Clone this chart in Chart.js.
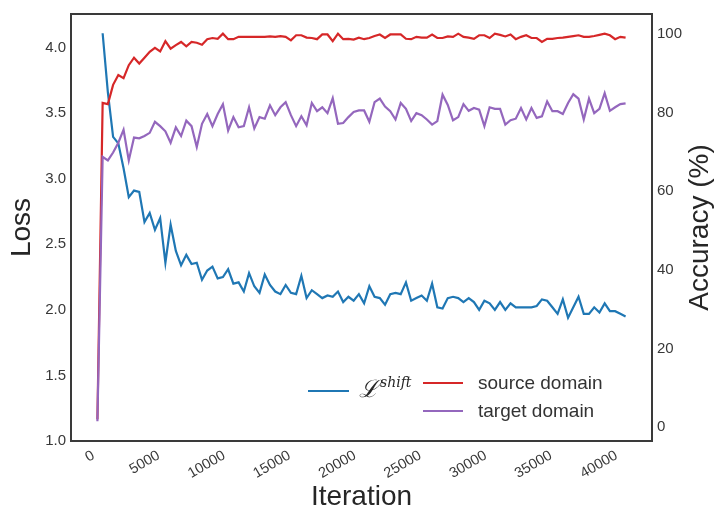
<!DOCTYPE html>
<html><head><meta charset="utf-8">
<script src="https://cdn.jsdelivr.net/npm/chart.js@4.4.0/dist/chart.umd.min.js"></script>
<style>html,body{margin:0;padding:0;background:#fff;}</style>
</head><body>
<canvas id="c" width="714" height="512"></canvas>
<script>
const iterations = [0,400,800,1200,1600,2000,2400,2800,3200,3600,4000,4400,4800,5200,5600,6000,6400,6800,7200,7600,
8000,8400,8800,9200,9600,10000,10400,10800,11200,11600,12000,12400,12800,13200,13600,14000,14400,14800,15200,15600,
16000,16400,16800,17200,17600,18000,18400,18800,19200,19600,20000,20400,20800,21200,21600,22000,22400,22800,23200,23600,
24000,24400,24800,25200,25600,26000,26400,26800,27200,27600,28000,28400,28800,29200,29600,30000,30400,30800,31200,31600,
32000,32400,32800,33200,33600,34000,34400,34800,35200,35600,36000,36400,36800,37200,37600,38000,38400,38800,39200,39600,
40000,40400];
const lossShift = [null,4.11,3.66,3.32,3.27,3.08,2.86,2.91,2.90,2.67,2.74,2.61,2.70,2.36,2.65,2.45,2.34,2.42,2.35,2.36,
2.23,2.30,2.33,2.24,2.25,2.31,2.20,2.21,2.14,2.28,2.18,2.13,2.27,2.19,2.14,2.12,2.19,2.13,2.12,2.26,
2.09,2.15,2.12,2.09,2.11,2.10,2.14,2.06,2.10,2.07,2.12,2.05,2.18,2.10,2.09,2.04,2.12,2.13,2.12,2.21,
2.07,2.09,2.11,2.07,2.20,2.02,2.01,2.09,2.10,2.09,2.06,2.09,2.06,2.00,2.07,2.05,2.00,2.06,2.00,2.05,
2.02,2.02,2.02,2.02,2.03,2.08,2.07,2.02,1.97,2.08,1.94,2.02,2.10,1.97,1.97,2.02,1.98,2.05,1.99,1.99,
1.97,1.95];
const sourceAcc = [2,82.4,82.1,87.0,89.5,88.7,92.0,93.9,92.4,93.9,95.4,96.4,95.5,98.1,96.2,97.1,97.9,96.8,97.9,97.7,
97.2,98.6,98.9,98.7,100.0,98.6,98.6,99.2,99.2,99.2,99.2,99.2,99.2,99.3,
99.2,99.4,99.2,98.3,99.6,99.6,99.0,98.9,98.6,99.8,99.8,98.1,100,98.6,98.7,98.5,99.0,98.6,98.9,99.4,
99.8,98.9,99.8,99.8,99.8,98.7,98.6,99.2,99.0,99.0,99.8,98.9,98.9,99.3,
99.2,100,99.2,99.0,98.7,99.6,99.6,98.9,100,99.7,99.3,99.8,98.6,99.2,99.6,98.9,98.9,97.9,98.7,98.7,
98.9,99.0,99.2,99.4,99.6,99.2,99.2,99.4,99.7,100,99.6,98.6,99.2,99.0];
const targetAcc = [1.5,68.7,67.8,69.8,72.3,75.6,67.8,73.6,73.4,74.0,74.8,77.6,76.5,75.2,72.3,76.2,74.0,77.9,76.5,71.2,
77.1,79.6,76.5,79.6,82.1,75.4,78.8,76.2,76.5,81.3,75.9,78.8,78.4,81.8,
79.3,81.3,82.6,79.3,76.5,79.0,76.7,82.4,80.3,81.3,79.8,83.6,77.1,77.3,78.8,80.1,80.5,80.5,77.6,82.6,
83.5,81.5,80.3,78.2,82.4,80.9,77.8,79.8,79.3,78.2,76.9,77.8,84.5,81.9,
78.0,78.8,82.1,80.4,81.1,80.7,76.5,81.3,80.9,80.9,76.9,78.0,78.4,81.1,78.2,81.1,78.6,79.0,82.8,80.3,
80.3,79.6,82.4,84.6,83.5,78.2,83.5,79.8,80.9,84.9,80.4,81.3,82.1,82.3];
const xTickValues = [0,5000,10000,15000,20000,25000,30000,35000,40000];
const lossTickValues = [1.0,1.5,2.0,2.5,3.0,3.5,4.0];
const accTickValues = [0,20,40,60,80,100];
const lossSymbol = 'ℒ';
const lossSuperscript = 'shift';
const seriesLabels = ['ℒshift','source domain','target domain'];
const xTitle = 'Iteration';
const lossTitle = 'Loss';
const accTitle = 'Accuracy (%)';
const colors = {loss:'#1f77b4', source:'#d62728', target:'#9467bd'};

const FONT = "'Liberation Sans', Arial, sans-serif";
const TEXT = '#383838';

function pairs(vals){ return iterations.map((x,i)=>({x:x, y:vals[i]})); }

const framePlugin = {
  id:'frameAndExtras',
  afterDraw(chart){
    const ctx = chart.ctx, a = chart.chartArea;
    ctx.save();
    ctx.strokeStyle = '#3a3a3a';
    ctx.lineWidth = 2;
    ctx.strokeRect(a.left, a.top, a.right - a.left, a.bottom - a.top);
    // right axis title reading bottom-to-top
    ctx.fillStyle = '#262626';
    ctx.font = "28px " + FONT;
    ctx.textAlign = 'center';
    ctx.textBaseline = 'middle';
    ctx.translate(700, (a.top + a.bottom)/2);
    ctx.rotate(-Math.PI/2);
    ctx.fillText(accTitle, 0, 0);
    ctx.restore();

    // legend
    const ds = chart.data.datasets;
    ctx.save();
    ctx.lineWidth = 2;
    const lossDs = ds.find(d=>d.key==='loss');
    const srcDs = ds.find(d=>d.key==='source');
    const tgtDs = ds.find(d=>d.key==='target');
    ctx.strokeStyle = lossDs.borderColor;
    ctx.beginPath(); ctx.moveTo(308,391); ctx.lineTo(349,391); ctx.stroke();
    ctx.fillStyle = '#262626';
    ctx.textBaseline = 'alphabetic';
    ctx.textAlign = 'left';
    ctx.font = "italic 24px 'DejaVu Serif', serif";
    ctx.fillText(lossSymbol, 359, 397);
    const w = ctx.measureText(lossSymbol).width;
    ctx.font = "italic 14px 'DejaVu Serif', serif";
    ctx.fillText(lossSuperscript, 359 + w + 1, 387);

    ctx.strokeStyle = srcDs.borderColor;
    ctx.beginPath(); ctx.moveTo(423,383); ctx.lineTo(463,383); ctx.stroke();
    ctx.strokeStyle = tgtDs.borderColor;
    ctx.beginPath(); ctx.moveTo(423,411); ctx.lineTo(463,411); ctx.stroke();
    ctx.font = "19px " + FONT;
    ctx.textBaseline = 'middle';
    ctx.fillStyle = '#333333';
    ctx.fillText(srcDs.label, 478, 384);
    ctx.fillText(tgtDs.label, 478, 412);
    ctx.restore();
  }
};

new Chart(document.getElementById('c'), {
  type:'line',
  data:{
    datasets:[
      {key:'target', label:seriesLabels[2], data:pairs(targetAcc), yAxisID:'yAcc', borderColor:colors.target, backgroundColor:colors.target, borderWidth:2.2, pointRadius:0, tension:0, fill:false},
      {key:'source', label:seriesLabels[1], data:pairs(sourceAcc), yAxisID:'yAcc', borderColor:colors.source, backgroundColor:colors.source, borderWidth:2.2, pointRadius:0, tension:0, fill:false},
      {key:'loss', label:seriesLabels[0], data:pairs(lossShift), yAxisID:'yLoss', borderColor:colors.loss, backgroundColor:colors.loss, borderWidth:2.2, pointRadius:0, tension:0, fill:false}
    ]
  },
  options:{
    responsive:false, animation:false, devicePixelRatio:1,
    layout:{padding:{top:10,left:0,right:0,bottom:0}},
    plugins:{legend:{display:false}, tooltip:{enabled:false}},
    scales:{
      x:{type:'linear', position:'bottom', min:-2020, max:42420,
        grid:{display:false, drawTicks:false}, border:{display:false},
        afterBuildTicks:s=>{s.ticks = xTickValues.map(v=>({value:v}));},
        afterFit:s=>{s.height = 71;},
        ticks:{minRotation:30, maxRotation:30, padding:6, labelOffset:-4, color:TEXT, font:{family:FONT, size:14.5}, callback:v=>String(v)},
        title:{display:true, text:xTitle, color:'#262626', font:{family:FONT, size:28, lineHeight:1}, padding:{top:0,bottom:1}}
      },
      yLoss:{type:'linear', position:'left', min:1.0, max:4.257,
        grid:{display:false, drawTicks:false}, border:{display:false},
        afterBuildTicks:s=>{s.ticks = lossTickValues.map(v=>({value:v}));},
        afterFit:s=>{s.width = 71;},
        ticks:{padding:5, color:TEXT, font:{family:FONT, size:15}, callback:v=>Number(v).toFixed(1)},
        title:{display:true, text:lossTitle, color:'#262626', font:{family:FONT, size:28, lineHeight:1}, padding:{top:8,bottom:0}}
      },
      yAcc:{type:'linear', position:'right', min:-3.5, max:105,
        grid:{display:false, drawTicks:false}, border:{display:false},
        afterBuildTicks:s=>{s.ticks = accTickValues.map(v=>({value:v}));},
        afterFit:s=>{s.width = 62;},
        ticks:{padding:5, color:TEXT, font:{family:FONT, size:15}, callback:v=>String(v)},
        title:{display:false, text:accTitle}
      }
    }
  },
  plugins:[framePlugin]
});
</script>
</body></html>
